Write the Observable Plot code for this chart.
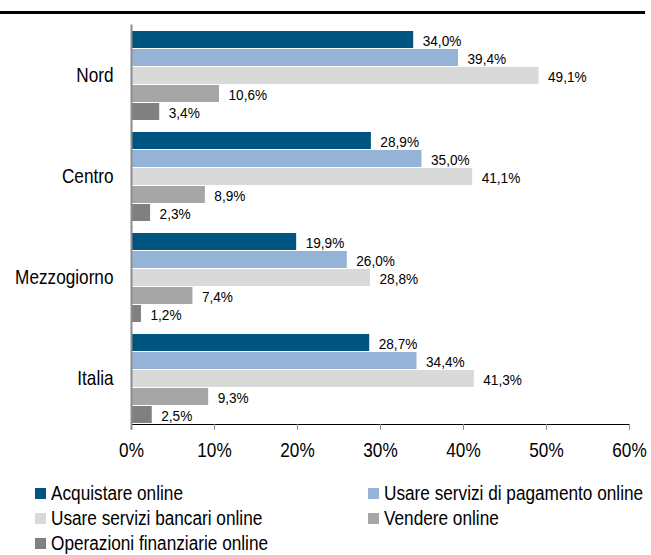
<!DOCTYPE html>
<html>
<head>
<meta charset="utf-8">
<script src="https://cdn.jsdelivr.net/npm/d3@7"></script>
<script src="https://cdn.jsdelivr.net/npm/@observablehq/plot@0.6"></script>
<style>
  body { margin: 0; background: #fff; font-family: "Liberation Sans", Arial, sans-serif; }
  #chart { position: absolute; left: 0; top: 0; }
  #topline { position: absolute; left: 0; top: 11px; width: 645px; height: 0; border-top: 3px solid #000; z-index: 5; }
  #legend { position: absolute; left: 0; top: 0; width: 651px; font-size: 20px; color: #000; }
  .item { position: absolute; display: flex; align-items: center; white-space: nowrap; height: 22px; line-height: 22px; }
  .sw { width: 11px; height: 11px; margin-right: 5px; flex: none; }
  .tx { display: inline-block; transform: scaleX(0.86); transform-origin: left center; }
</style>
</head>
<body>
<div id="chart"></div>
<div id="topline"></div>
<div id="legend"></div>
<script>
const regions = ["Nord", "Centro", "Mezzogiorno", "Italia"];
const series = [
  "Acquistare online",
  "Usare servizi di pagamento online",
  "Usare servizi bancari online",
  "Vendere online",
  "Operazioni finanziarie online"
];
const colors = ["#005480", "#95B3D7", "#D9D9D9", "#A6A6A6", "#808080"];
// values per series, in order of regions
const acquistare = [34.0, 28.9, 19.9, 28.7];
const pagamento = [39.4, 35.0, 26.0, 34.4];
const bancari = [49.1, 41.1, 28.8, 41.3];
const vendere = [10.6, 8.9, 7.4, 9.3];
const finanziarie = [3.4, 2.3, 1.2, 2.5];
const xTicks = [0, 10, 20, 30, 40, 50, 60];

const seriesValues = [acquistare, pagamento, bancari, vendere, finanziarie];
const data = [];
regions.forEach((r, i) => {
  series.forEach((s, j) => {
    data.push({region: r, series: s, value: seriesValues[j][i]});
  });
});

const fmt = v => v.toFixed(1).replace(".", ",") + "%";

const chart = Plot.plot({
  width: 651,
  height: 470,
  marginTop: 24,
  marginBottom: 40,
  marginLeft: 131,
  marginRight: 22,
  style: {fontFamily: '"Liberation Sans", Arial, sans-serif', fontSize: "20px", color: "#000", background: "transparent"},
  x: {domain: [0, 60], ticks: xTicks, tickFormat: d => d + "%", tickSize: 6, tickPadding: 12, line: true, label: null},
  y: {domain: series, padding: 0.04, axis: null},
  fy: {domain: regions, paddingInner: 0.1, paddingOuter: 0.05, label: null, tickSize: 0, tickPadding: 18},
  color: {domain: series, range: colors},
  facet: {data, y: "region"},
  marks: [
    Plot.barX(data, {x: "value", y: "series", fill: "series"}),
    Plot.text(data, {x: "value", y: "series", text: d => fmt(d.value), textAnchor: "start", dx: 9, dy: 1.5, fontSize: 15.5, fill: "#000"}),
    Plot.ruleX([0], {stroke: "#8c8c8c", strokeWidth: 2, insetTop: -5.5, insetBottom: -5.5})
  ]
});
chart.querySelectorAll("[aria-label^='x-axis'] line, [aria-label^='x-axis'] path").forEach(el => el.setAttribute("stroke", "#8c8c8c"));
document.getElementById("chart").appendChild(chart);

// condense svg text horizontally around its anchor (narrow font look)
chart.querySelectorAll("text").forEach(t => {
  const inTextMark = !!t.closest("[aria-label='text']");
  const fs = inTextMark ? 15.5 : 20;
  t.setAttribute("font-size", fs);
  t.style.fontSize = fs + "px";
  t.setAttribute("fill", "#000");
  t.dataset.s = inTextMark ? 0.88 : 0.86;
});
chart.querySelectorAll("text").forEach(t => {
  const S = +t.dataset.s;
  const bb = t.getBBox();
  const anchor = getComputedStyle(t).textAnchor;
  const ax = anchor === "end" ? bb.x + bb.width : anchor === "middle" ? bb.x + bb.width / 2 : bb.x;
  const prev = t.getAttribute("transform") || "";
  t.setAttribute("transform", `${prev} translate(${ax},0) scale(${S},1) translate(${-ax},0)`);
});

const legend = document.getElementById("legend");
const pos = [[35, 493], [368, 493], [35, 518], [368, 518], [35, 543]];
series.forEach((s, i) => {
  const it = document.createElement("div");
  it.className = "item";
  it.style.left = pos[i][0] + "px";
  it.style.top = (pos[i][1] - 11) + "px";
  const sw = document.createElement("div");
  sw.className = "sw";
  sw.style.background = colors[i];
  const tx = document.createElement("span");
  tx.className = "tx";
  tx.textContent = s;
  it.appendChild(sw);
  it.appendChild(tx);
  legend.appendChild(it);
});
</script>
</body>
</html>
